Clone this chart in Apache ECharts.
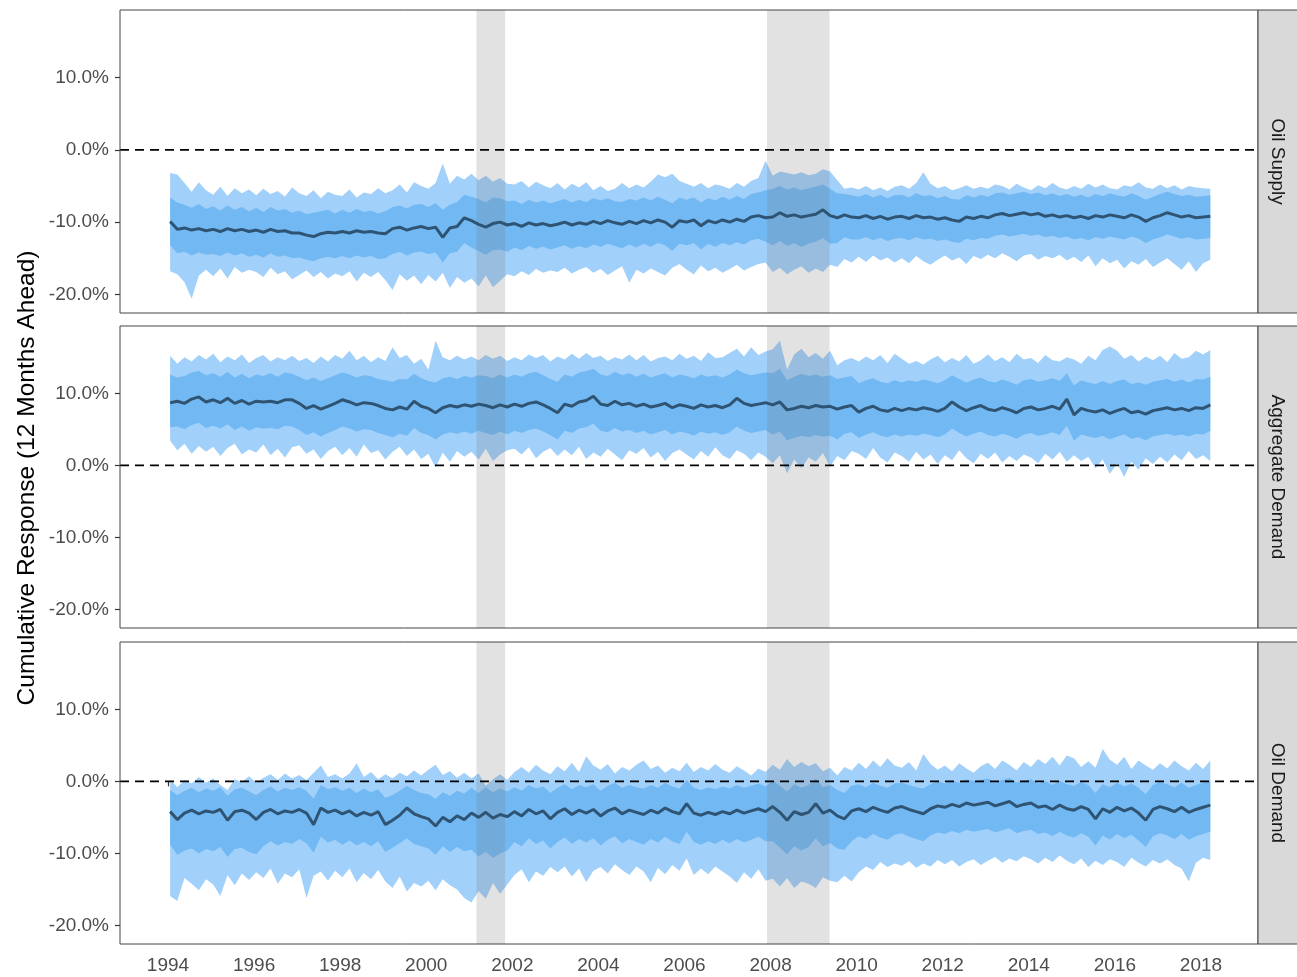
<!DOCTYPE html>
<html><head><meta charset="utf-8">
<script src="https://cdn.jsdelivr.net/npm/echarts@6/dist/echarts.min.js"></script>
<style>html,body{margin:0;padding:0;background:#fff}#chart{width:1297px;height:977px}</style>
</head><body><div id="chart"></div>
<script>
// ---------- data ----------
const panelNames = ['Oil Supply', 'Aggregate Demand', 'Oil Demand'];
const yTitle = 'Cumulative Response (12 Months Ahead)';
const xTicks = [1994, 1996, 1998, 2000, 2002, 2004, 2006, 2008, 2010, 2012, 2014, 2016, 2018];
const yTicks = [-20, -10, 0, 10];
const recessions = [[2001.167, 2001.833], [2007.917, 2009.37]];
// bi-monthly observation dates (decimal years)
const dates = Array.from({length: 146}, (_, i) => 1994.05 + i / 6);

// ---- Oil Supply ----
const supplyMed = [
-9.9,-11.0,-10.8,-11.1,-10.9,-11.2,
-11.0,-11.3,-10.9,-11.2,-11.0,-11.3,
-11.1,-11.4,-11.0,-11.3,-11.2,-11.5,
-11.5,-11.8,-12.0,-11.6,-11.4,-11.5,
-11.3,-11.5,-11.2,-11.4,-11.3,-11.5,
-11.6,-10.9,-10.7,-11.1,-10.8,-10.6,
-10.9,-10.7,-12.1,-10.8,-10.6,-9.4,
-9.8,-10.3,-10.7,-10.2,-10.0,-10.4,
-10.2,-10.6,-10.1,-10.4,-10.2,-10.5,
-10.3,-10.0,-10.4,-10.1,-10.3,-9.9,
-10.2,-9.8,-10.1,-10.3,-9.9,-10.2,
-9.8,-10.1,-9.7,-10.0,-10.7,-9.8,
-10.0,-9.7,-10.5,-9.8,-10.1,-9.7,
-10.0,-9.6,-9.9,-9.3,-9.1,-9.4,
-9.3,-8.7,-9.2,-9.0,-9.3,-9.1,
-8.9,-8.3,-9.1,-9.4,-9.0,-9.3,
-9.4,-9.1,-9.5,-9.2,-9.6,-9.3,
-9.2,-9.5,-9.1,-9.4,-9.3,-9.6,
-9.4,-9.7,-9.9,-9.3,-9.5,-9.2,
-9.4,-9.0,-8.8,-9.1,-8.9,-8.7,
-9.0,-8.8,-9.2,-9.0,-9.3,-9.1,
-9.4,-9.2,-9.5,-9.1,-9.3,-9.0,
-9.2,-9.4,-9.0,-9.3,-9.9,-9.4,
-9.1,-8.7,-9.0,-9.3,-9.1,-9.4,
-9.3,-9.2];
const supplyHi90 = [
-3.2,-3.4,-4.6,-5.8,-4.5,-5.6,
-6.2,-5.1,-6.4,-5.3,-6.0,-5.5,
-6.3,-5.4,-6.1,-5.7,-6.5,-5.2,
-6.0,-6.4,-5.6,-6.7,-5.8,-6.2,
-6.4,-5.5,-6.6,-5.9,-6.1,-5.3,
-6.0,-5.6,-4.8,-5.9,-4.5,-5.0,
-5.4,-4.6,-1.9,-4.7,-3.6,-4.1,
-3.3,-4.2,-3.6,-4.4,-3.9,-4.7,
-4.8,-4.3,-5.2,-4.4,-4.9,-5.3,
-4.6,-5.5,-4.7,-5.2,-4.5,-5.6,
-5.0,-5.7,-5.4,-4.6,-5.3,-4.8,
-5.2,-4.4,-3.4,-3.8,-3.3,-4.3,
-4.7,-5.1,-4.6,-5.3,-4.8,-5.0,
-5.4,-4.6,-5.1,-4.3,-3.9,-1.5,
-3.6,-3.0,-3.2,-3.4,-3.1,-3.5,
-3.3,-2.7,-3.0,-4.2,-5.4,-5.2,
-5.5,-5.0,-5.6,-5.2,-5.7,-5.1,
-4.9,-5.4,-4.6,-3.1,-4.7,-5.3,
-5.0,-5.6,-5.3,-4.9,-5.4,-5.1,
-5.4,-4.8,-5.0,-5.5,-4.7,-5.2,
-5.6,-4.9,-5.3,-4.6,-5.2,-5.5,
-5.0,-5.4,-4.7,-5.2,-4.8,-5.3,
-5.5,-4.9,-5.1,-4.5,-5.2,-5.4,
-4.8,-5.3,-4.9,-5.5,-5.0,-5.2,
-5.3,-5.4];
const supplyLo90 = [
-16.8,-17.2,-18.3,-20.6,-17.4,-16.6,
-17.5,-16.4,-17.8,-16.2,-17.0,-16.6,
-16.9,-17.6,-16.3,-17.2,-16.8,-17.9,
-17.3,-16.7,-17.6,-16.9,-17.8,-17.1,
-17.5,-16.8,-18.2,-17.0,-17.6,-16.9,
-18.0,-19.4,-17.2,-18.1,-17.4,-18.6,
-17.3,-18.2,-17.0,-19.1,-17.6,-18.4,
-17.8,-18.9,-17.4,-19.0,-18.1,-17.2,
-17.5,-16.8,-17.3,-16.5,-17.0,-16.7,
-16.9,-16.3,-17.1,-16.6,-16.2,-17.0,
-16.5,-17.3,-16.7,-16.1,-18.4,-16.6,
-17.1,-16.4,-16.9,-17.4,-16.3,-15.8,
-16.6,-17.2,-16.0,-16.8,-16.3,-17.0,
-16.5,-15.9,-16.7,-16.2,-15.8,-15.6,
-16.9,-16.3,-17.2,-16.6,-16.1,-17.0,
-16.4,-16.9,-15.9,-16.2,-15.1,-15.6,
-14.8,-15.5,-14.6,-15.3,-14.9,-15.6,
-15.0,-15.7,-14.7,-15.4,-15.9,-15.2,
-14.6,-15.3,-14.9,-15.8,-14.7,-15.1,
-14.5,-15.0,-14.3,-14.8,-15.4,-14.6,
-14.4,-15.2,-14.7,-15.0,-14.5,-15.3,
-14.8,-15.5,-14.6,-16.1,-15.0,-15.7,
-15.2,-16.4,-15.4,-15.9,-15.1,-16.2,
-15.6,-15.0,-15.8,-16.6,-15.4,-16.9,
-15.7,-15.2];
const supplyHi68 = [
-6.6,-7.3,-7.6,-8.0,-7.5,-8.2,
-7.8,-8.4,-7.7,-8.3,-7.9,-8.5,
-8.0,-8.6,-7.9,-8.4,-8.2,-8.7,
-8.4,-8.9,-8.7,-8.5,-8.3,-8.8,
-8.3,-8.7,-8.2,-8.6,-8.4,-8.8,
-8.5,-7.9,-7.7,-8.1,-7.6,-7.5,
-7.9,-7.4,-8.3,-7.6,-7.2,-6.2,
-6.5,-6.8,-7.3,-6.6,-6.7,-7.1,
-7.0,-7.5,-6.9,-7.3,-7.0,-7.4,
-7.1,-6.8,-7.3,-6.9,-7.2,-6.7,
-7.0,-6.7,-7.1,-7.2,-6.8,-7.0,
-6.6,-7.0,-6.5,-6.9,-7.4,-6.6,
-6.9,-6.6,-7.3,-6.7,-7.0,-6.5,
-6.9,-6.4,-6.8,-6.1,-5.9,-5.6,
-5.4,-5.0,-5.5,-5.2,-5.6,-5.3,
-5.1,-4.8,-5.4,-6.0,-6.1,-6.3,
-6.5,-6.1,-6.6,-6.2,-6.7,-6.3,
-6.2,-6.6,-6.0,-6.4,-6.3,-6.7,
-6.4,-6.8,-6.9,-6.3,-6.6,-6.2,
-6.5,-6.0,-5.9,-6.2,-6.0,-5.8,
-6.1,-5.9,-6.3,-6.0,-6.4,-6.1,
-6.5,-6.2,-6.6,-6.1,-6.4,-6.0,
-6.3,-6.5,-6.0,-6.4,-6.9,-6.5,
-6.1,-5.8,-6.1,-6.4,-6.2,-6.5,
-6.4,-6.3];
const supplyLo68 = [
-13.2,-14.3,-14.1,-14.6,-14.2,-14.5,
-14.4,-14.7,-14.2,-14.6,-14.3,-14.8,
-14.5,-14.9,-14.3,-14.8,-14.6,-15.0,
-14.9,-15.2,-15.4,-15.0,-14.8,-15.0,
-14.7,-15.0,-14.6,-14.9,-14.7,-15.1,
-15.0,-14.4,-14.1,-14.6,-14.2,-14.1,
-14.4,-14.2,-15.6,-14.3,-14.1,-12.9,
-13.5,-14.0,-14.5,-13.9,-13.8,-14.1,
-13.5,-13.9,-13.3,-13.7,-13.4,-13.8,
-13.5,-13.2,-13.7,-13.3,-13.6,-13.1,
-13.4,-13.0,-13.3,-13.6,-13.1,-13.5,
-13.0,-13.4,-12.9,-13.2,-14.0,-13.0,
-13.2,-12.9,-13.8,-13.0,-13.4,-12.9,
-13.2,-12.8,-13.1,-12.5,-12.3,-12.7,
-13.2,-12.6,-13.3,-12.9,-13.4,-13.0,
-12.7,-12.2,-13.0,-12.9,-12.1,-12.4,
-12.4,-12.1,-12.5,-12.2,-12.6,-12.3,
-12.2,-12.5,-12.1,-12.4,-12.3,-12.6,
-12.4,-12.7,-12.9,-12.3,-12.5,-12.2,
-12.3,-11.9,-11.7,-12.0,-11.8,-11.6,
-11.9,-11.7,-12.1,-11.9,-12.2,-12.0,
-12.4,-12.2,-12.5,-12.1,-12.3,-12.0,
-12.2,-12.4,-12.0,-12.3,-12.9,-12.4,
-12.1,-11.7,-12.0,-12.3,-12.1,-12.4,
-12.3,-12.2];

// ---- Aggregate Demand ----
const aggMed = [
8.7,8.9,8.6,9.2,9.5,8.8,
9.1,8.7,9.3,8.6,9.0,8.5,
8.9,8.8,8.9,8.7,9.1,9.1,
8.6,7.9,8.3,7.8,8.2,8.6,
9.1,8.8,8.4,8.7,8.6,8.3,
7.9,7.7,8.1,7.8,8.9,8.2,
7.9,7.3,8.0,8.3,8.1,8.4,
8.2,8.5,8.3,8.0,8.4,8.1,
8.5,8.2,8.6,8.8,8.4,7.9,
7.3,8.5,8.2,8.8,9.0,9.6,
8.5,8.3,8.9,8.4,8.6,8.2,
8.5,8.1,8.3,8.6,8.0,8.4,
8.2,7.9,8.4,8.1,8.3,8.0,
8.4,9.3,8.6,8.3,8.5,8.7,
8.4,8.8,7.7,7.9,8.2,8.0,
8.3,8.1,8.2,7.8,8.1,8.3,
7.4,7.9,8.2,7.7,7.5,7.9,
7.6,7.9,7.7,8.0,7.8,7.5,
7.9,8.8,8.1,7.6,8.0,8.3,
7.8,7.6,8.0,7.7,7.3,7.9,
8.1,7.7,7.9,8.2,7.8,9.2,
7.0,7.9,7.6,7.4,7.7,7.2,
7.6,7.9,7.3,7.5,7.1,7.6,
7.8,8.0,7.7,7.9,7.6,8.0,
7.9,8.4];
const aggHi90 = [
15.2,14.1,15.0,14.4,15.3,14.7,
15.5,14.3,15.1,14.6,15.4,14.2,
14.9,15.3,14.4,15.0,14.6,15.2,
14.5,14.9,14.2,15.1,14.4,15.3,
14.8,15.9,14.6,15.2,14.3,15.0,
14.5,16.4,14.9,15.3,14.1,14.8,
13.3,17.3,15.0,14.6,15.2,14.7,
15.1,14.6,15.3,14.8,15.2,14.5,
15.0,14.6,15.4,14.9,15.3,14.4,
15.1,14.7,15.5,14.8,15.6,14.9,
15.2,14.5,15.0,14.7,15.4,14.6,
15.3,14.4,14.9,15.1,14.6,15.5,
14.8,15.2,14.5,15.7,14.9,15.0,
15.6,16.2,15.1,16.4,15.3,15.8,
16.1,17.3,13.3,15.4,16.2,15.0,
15.6,14.8,15.9,13.9,14.6,14.9,
14.4,15.1,14.6,15.3,14.2,15.5,
14.8,14.1,14.5,14.0,14.7,15.2,
14.3,14.9,14.4,15.3,14.1,14.6,
15.4,14.5,15.0,14.3,15.5,14.7,
14.9,14.2,15.3,14.6,14.4,15.0,
14.7,14.1,15.2,14.6,16.0,16.5,
15.9,14.8,15.3,14.4,15.1,14.6,
15.2,14.3,15.6,14.8,15.0,15.9,
15.4,16.0];
const aggLo90 = [
3.4,2.1,3.0,1.6,2.7,1.9,
2.6,1.3,2.4,3.0,1.5,2.2,
1.8,2.9,1.4,2.3,1.1,2.5,
2.8,1.6,2.2,0.9,2.0,2.6,
1.4,2.4,1.2,2.9,1.7,2.1,
0.8,1.9,2.6,1.3,2.2,0.9,
1.6,-0.3,1.8,0.5,2.0,1.2,
1.9,0.8,2.3,0.6,1.5,2.1,
2.3,1.5,2.5,1.0,1.9,2.4,
1.3,2.2,1.4,2.6,0.9,1.8,
1.2,2.3,1.5,0.7,2.1,1.6,
2.4,1.1,1.9,0.6,1.7,2.2,
1.5,0.8,2.0,1.2,2.5,1.4,
0.9,2.1,1.6,0.7,1.8,1.2,
0.3,1.4,-1.1,0.8,-0.4,1.1,
0.5,1.7,-0.2,1.3,0.7,2.0,
1.6,0.9,2.4,1.1,0.4,1.8,
1.3,0.5,1.9,0.8,1.5,0.2,
1.4,0.7,2.1,1.0,0.3,1.6,
0.9,1.8,0.4,1.3,0.6,1.5,
1.1,0.3,1.6,0.8,1.9,0.5,
1.4,0.6,1.2,-0.4,0.8,-1.2,
0.3,-1.6,0.5,-0.6,1.0,0.2,
1.2,0.4,1.5,0.7,2.0,0.9,
1.4,0.6];
const aggHi68 = [
12.6,12.2,12.4,12.9,13.1,12.5,
12.8,12.3,13.0,12.2,12.7,12.1,
12.6,12.4,12.8,12.3,12.9,12.7,
12.3,11.8,12.2,11.7,12.1,12.5,
12.9,12.6,12.2,12.5,12.4,12.0,
11.8,11.6,12.0,11.9,12.7,12.1,
11.7,11.5,12.1,12.3,12.0,12.4,
12.2,12.5,12.4,12.1,12.6,12.2,
12.6,12.3,12.8,13.0,12.5,12.0,
11.6,12.6,12.3,12.9,13.1,13.4,
12.6,12.4,13.0,12.5,12.8,12.3,
12.7,12.2,12.5,12.8,12.2,12.6,
12.4,12.1,12.6,12.3,12.5,12.2,
12.6,13.3,12.8,12.5,12.7,12.9,
12.8,13.4,11.8,12.3,12.7,12.4,
12.6,12.3,12.5,12.0,12.2,12.4,
11.4,11.8,12.1,11.6,11.4,11.8,
11.5,11.8,11.6,11.9,11.7,11.4,
11.8,12.5,12.0,11.5,11.9,12.2,
11.7,11.5,11.9,11.6,11.2,11.8,
12.0,11.6,11.8,12.1,11.7,12.8,
11.1,11.8,11.5,11.3,11.7,11.3,
11.7,11.9,11.3,11.5,11.2,11.6,
11.8,12.0,11.6,11.9,11.5,12.0,
11.9,12.3];
const aggLo68 = [
5.3,5.4,5.0,5.6,5.9,5.2,
5.5,5.1,5.7,4.9,5.4,4.8,
5.3,5.1,5.2,5.0,5.5,5.4,
4.9,4.2,4.6,4.0,4.5,4.9,
5.4,5.1,4.7,5.0,4.9,4.5,
4.2,3.9,4.4,4.1,5.2,4.5,
4.2,3.6,4.3,4.6,4.4,4.7,
4.4,4.8,4.5,4.2,4.7,4.3,
4.8,4.5,4.9,5.1,4.7,4.2,
3.6,4.8,4.5,5.1,5.3,5.8,
4.8,4.6,5.2,4.7,4.9,4.5,
4.8,4.3,4.6,4.9,4.3,4.7,
4.5,4.1,4.7,4.4,4.6,4.2,
4.6,5.4,4.8,4.5,4.7,4.9,
4.3,4.7,3.5,3.8,4.1,3.9,
4.2,4.0,4.1,3.6,4.4,4.6,
3.8,4.3,4.6,4.1,3.9,4.3,
4.0,4.3,4.1,4.4,4.2,3.9,
4.3,5.1,4.5,4.0,4.4,4.7,
4.2,4.0,4.4,4.1,3.7,4.3,
4.5,4.1,4.3,4.6,4.2,5.5,
3.4,4.3,4.0,3.8,4.1,3.6,
4.0,4.3,3.7,3.9,3.5,4.0,
4.2,4.4,4.1,4.3,4.0,4.4,
4.3,4.8];

// ---- Oil Demand ----
const oilMed = [
-4.2,-5.3,-4.4,-4.0,-4.5,-4.1,
-4.3,-3.9,-5.4,-4.2,-4.0,-4.4,
-5.3,-4.3,-3.9,-4.5,-4.1,-4.3,
-3.9,-4.4,-6.0,-3.7,-4.3,-4.0,
-4.5,-4.1,-4.8,-4.3,-4.7,-4.2,
-6.0,-5.4,-4.7,-3.7,-4.5,-4.9,
-5.2,-6.2,-5.0,-5.6,-4.8,-5.3,
-4.4,-5.0,-4.3,-5.1,-4.6,-4.9,
-4.2,-4.8,-3.9,-4.5,-4.1,-5.2,
-4.3,-3.8,-4.6,-4.0,-4.4,-3.9,
-4.8,-4.1,-3.7,-4.5,-4.0,-4.3,
-4.6,-4.0,-4.4,-3.7,-4.2,-4.5,
-3.1,-4.4,-4.7,-4.3,-4.6,-4.2,
-4.5,-4.0,-4.4,-4.1,-3.8,-4.2,
-3.5,-4.3,-5.4,-4.2,-4.6,-4.3,
-3.1,-4.4,-4.0,-4.8,-5.2,-4.1,
-3.8,-4.2,-3.6,-4.0,-4.3,-3.7,
-3.5,-3.9,-4.2,-4.5,-3.8,-3.4,
-3.6,-3.2,-3.5,-3.0,-3.3,-3.1,
-2.9,-3.4,-3.1,-2.8,-3.5,-3.2,
-3.0,-3.6,-3.4,-3.9,-3.3,-3.8,
-4.0,-3.5,-3.9,-5.2,-3.8,-4.3,
-3.6,-4.1,-3.7,-4.4,-5.4,-3.9,
-3.5,-3.8,-4.2,-3.6,-4.3,-3.9,
-3.6,-3.3];
const oilHi90 = [
0.3,-0.8,0.2,-0.3,0.6,-0.2,
0.4,-0.5,-1.2,0.3,-0.1,0.7,
-0.2,0.5,1.0,0.2,1.1,0.4,
0.9,0.2,1.2,2.2,0.6,1.0,
0.4,1.1,2.5,0.6,1.3,0.3,
1.0,0.4,1.2,0.7,1.5,0.8,
1.6,2.3,0.9,1.4,0.5,1.2,
0.4,1.1,-0.6,0.3,1.0,0.2,
1.3,2.0,1.2,2.3,1.5,1.0,
2.1,1.4,2.6,1.3,3.5,2.2,
1.6,2.4,1.1,2.0,1.5,2.3,
2.9,1.7,2.2,1.2,1.9,1.4,
2.6,1.3,2.0,1.5,2.4,1.6,
1.2,2.1,1.5,0.8,1.8,1.3,
2.3,1.6,3.1,2.0,2.7,2.1,
2.5,1.4,1.9,0.8,2.0,1.5,
2.6,1.7,2.9,2.0,3.2,2.2,
1.9,2.7,1.5,3.8,2.4,1.6,
2.2,1.4,2.5,1.8,1.2,2.1,
2.6,1.7,2.9,2.3,1.5,2.7,
2.0,3.1,2.4,3.4,2.2,3.6,
3.2,2.0,2.8,1.9,4.5,3.0,
2.3,3.4,1.7,2.9,2.2,1.6,
2.5,1.8,2.9,2.1,1.5,2.6,
1.7,2.9];
const oilLo90 = [
-15.9,-16.6,-13.4,-14.2,-15.1,-13.6,
-14.3,-15.9,-13.0,-14.4,-12.8,-13.7,
-12.6,-13.4,-12.1,-14.2,-12.8,-13.3,
-12.2,-16.2,-13.1,-12.5,-13.8,-12.4,
-13.3,-12.1,-14.0,-12.7,-13.6,-12.3,
-13.9,-14.8,-13.2,-15.3,-14.1,-14.6,
-13.8,-15.1,-13.6,-14.4,-15.0,-16.2,
-16.8,-15.2,-16.3,-14.1,-15.6,-14.3,
-13.0,-12.2,-14.0,-12.5,-13.1,-11.9,
-12.6,-11.8,-13.2,-12.1,-14.0,-12.4,
-11.9,-12.8,-11.5,-12.3,-13.0,-11.8,
-12.5,-14.0,-12.0,-12.9,-11.6,-12.4,
-10.7,-13.0,-12.1,-12.9,-11.8,-12.5,
-13.2,-14.1,-12.6,-13.5,-12.2,-13.8,
-13.5,-14.6,-13.4,-14.8,-13.9,-14.2,
-14.8,-13.3,-13.8,-14.0,-13.1,-13.9,
-12.6,-11.8,-12.3,-11.2,-11.9,-11.4,
-11.7,-11.1,-12.0,-11.4,-11.8,-10.9,
-11.5,-10.9,-11.8,-11.2,-10.8,-11.6,
-11.0,-10.5,-11.3,-10.7,-11.1,-10.4,
-10.8,-11.4,-10.6,-11.2,-10.3,-11.0,
-11.5,-10.7,-11.9,-11.0,-11.6,-10.8,
-11.2,-11.9,-10.6,-11.3,-11.8,-10.9,
-11.4,-10.8,-11.6,-12.1,-13.9,-11.3,
-10.6,-10.9];
const oilHi68 = [
-1.2,-1.9,-1.3,-0.9,-1.5,-1.0,
-1.3,-0.8,-2.0,-1.1,-0.9,-1.4,
-1.9,-1.2,-0.7,-1.4,-0.9,-1.2,
-0.8,-1.3,-2.4,-0.5,-1.1,-0.8,
-1.3,-0.9,-1.6,-1.0,-1.5,-1.1,
-2.3,-1.9,-1.3,-0.6,-1.2,-1.6,
-1.8,-2.4,-1.5,-2.0,-1.3,-1.7,
-0.9,-1.6,-0.8,-1.5,-1.0,-1.4,
-0.8,-1.3,-0.5,-1.0,-0.7,-1.6,
-0.9,-0.4,-1.1,-0.5,-0.8,-0.4,
-1.3,-0.6,-0.2,-0.9,-0.5,-0.8,
-1.0,-0.5,-0.9,-0.2,-0.7,-1.0,
0.2,-0.9,-1.2,-0.8,-1.1,-0.7,
-1.0,-0.5,-0.9,-0.6,-0.3,-0.7,
0.1,-0.6,-1.4,-0.4,-0.9,-0.5,
0.4,-0.8,-0.5,-1.2,-1.6,-0.6,
-0.4,-0.8,-0.2,-0.6,-0.9,-0.3,
-0.2,-0.5,-0.8,-1.0,-0.4,0.0,
-0.3,0.1,-0.2,0.3,0.0,0.2,
0.4,-0.1,0.2,0.5,-0.2,0.1,
0.3,-0.3,0.0,-0.5,0.1,-0.4,
-0.6,-0.1,-0.5,-1.6,-0.4,-0.8,
-0.2,-0.7,-0.3,-0.9,-1.8,-0.5,
-0.1,-0.4,-0.8,-0.2,-0.9,-0.5,
-0.2,0.1];
const oilLo68 = [
-8.8,-10.2,-9.6,-9.3,-10.0,-9.4,
-9.7,-9.1,-10.5,-9.4,-9.2,-9.8,
-10.1,-9.0,-8.3,-8.9,-8.4,-8.7,
-8.0,-8.6,-9.9,-7.7,-8.5,-8.1,
-8.8,-8.2,-8.9,-8.4,-9.0,-8.3,
-9.8,-9.2,-8.6,-7.9,-8.7,-9.0,
-9.3,-10.2,-9.0,-9.8,-9.1,-9.7,
-9.5,-10.4,-9.8,-10.6,-10.0,-9.6,
-8.4,-9.0,-7.9,-8.7,-8.2,-9.3,
-8.4,-7.8,-8.7,-8.0,-8.5,-7.9,
-8.9,-8.1,-7.6,-8.6,-8.0,-8.4,
-8.8,-8.0,-8.5,-7.7,-8.3,-8.7,
-7.0,-8.4,-8.8,-8.3,-8.7,-8.1,
-8.6,-8.0,-8.5,-8.1,-7.7,-8.3,
-8.3,-9.2,-10.1,-9.0,-9.6,-9.1,
-7.9,-9.0,-8.6,-9.3,-9.5,-8.3,
-7.6,-8.0,-7.3,-7.8,-8.1,-7.4,
-7.2,-7.7,-8.0,-8.3,-7.5,-7.1,
-7.3,-6.9,-7.2,-6.7,-7.0,-6.8,
-6.6,-7.1,-6.8,-6.5,-7.2,-6.9,
-6.7,-7.3,-7.1,-7.6,-7.0,-7.5,
-7.8,-7.2,-7.7,-8.9,-7.5,-8.1,
-7.3,-7.9,-7.4,-8.2,-9.1,-7.6,
-7.2,-7.5,-8.0,-7.3,-8.1,-7.6,
-7.3,-7.0];

// ---------- chart ----------
const X_MIN = 1992.885, X_MAX = 2019.325;
const Y_MIN = -22.57, Y_MAX = 19.34;
const FONT = '"Liberation Sans", Arial, Helvetica, sans-serif';
const panels = [
  {med: supplyMed, lo68: supplyLo68, hi68: supplyHi68, lo90: supplyLo90, hi90: supplyHi90, top: 10, h: 303},
  {med: aggMed, lo68: aggLo68, hi68: aggHi68, lo90: aggLo90, hi90: aggHi90, top: 326, h: 302},
  {med: oilMed, lo68: oilLo68, hi68: oilHi68, lo90: oilLo90, hi90: oilHi90, top: 642, h: 302}
];
const LEFT = 120, PW = 1138;

function bandSeries(idx, lo, hi, color, z) {
  return {
    type: 'custom', xAxisIndex: idx, yAxisIndex: idx, z: z, silent: true, clip: true,
    encode: {x: 0, y: [1, 2]},
    data: dates.map((d, i) => [d, lo[i], hi[i]]),
    renderItem: function (params, api) {
      if (params.dataIndex !== 0) return;
      const pts = [];
      for (let i = 0; i < dates.length; i++) pts.push(api.coord([dates[i], hi[i]]));
      for (let i = dates.length - 1; i >= 0; i--) pts.push(api.coord([dates[i], lo[i]]));
      return {type: 'polygon', shape: {points: pts}, style: {fill: color}};
    }
  };
}

const grid = [], xAxis = [], yAxis = [], series = [], graphic = [];
panels.forEach((p, k) => {
  grid.push({left: LEFT, width: PW, top: p.top, height: p.h});
  xAxis.push({
    type: 'value', gridIndex: k, min: X_MIN, max: X_MAX,
    axisLine: {show: false}, splitLine: {show: false},
    axisTick: {show: k === 2, length: 5, customValues: xTicks, lineStyle: {color: '#333', width: 1.2}},
    axisLabel: {show: k === 2, customValues: xTicks, margin: 12, fontSize: 19, color: '#4d4d4d', fontFamily: FONT,
      formatter: v => String(Math.round(v))}
  });
  yAxis.push({
    type: 'value', gridIndex: k, min: Y_MIN, max: Y_MAX,
    axisLine: {show: false}, splitLine: {show: false},
    axisTick: {show: true, length: 5, customValues: yTicks, lineStyle: {color: '#333', width: 1.2}},
    axisLabel: {customValues: yTicks, margin: 11, fontSize: 19, color: '#4d4d4d', fontFamily: FONT,
      formatter: v => v.toFixed(1) + '%'}
  });
  series.push(bandSeries(k, p.lo90, p.hi90, '#a1d0fa', 1));
  series.push(bandSeries(k, p.lo68, p.hi68, '#72b9f4', 2));
  series.push({
    type: 'custom', xAxisIndex: k, yAxisIndex: k, z: 3, silent: true,
    encode: {x: [0, 1]},
    data: recessions,
    renderItem: function (params, api) {
      const a = api.coord([api.value(0), Y_MAX]);
      const b = api.coord([api.value(1), Y_MIN]);
      return {type: 'rect', shape: {x: a[0], y: a[1], width: b[0] - a[0], height: b[1] - a[1]},
        style: {fill: 'rgba(120,120,120,0.21)'}};
    }
  });
  series.push({
    type: 'line', xAxisIndex: k, yAxisIndex: k, z: 4, symbol: 'none', silent: true,
    data: dates.map((d, i) => [d, p.med[i]]),
    lineStyle: {color: '#2f5473', width: 3}
  });
  series.push({
    type: 'line', xAxisIndex: k, yAxisIndex: k, z: 5, symbol: 'none', silent: true,
    data: [[X_MIN, 0], [X_MAX, 0]],
    lineStyle: {color: '#000', width: 1.8, type: [9, 6]}
  });
  // panel frame
  graphic.push({type: 'rect', z: 100, silent: true,
    shape: {x: LEFT, y: p.top, width: PW, height: p.h},
    style: {fill: 'none', stroke: '#444', lineWidth: 1}});
  // strip
  graphic.push({type: 'rect', z: 100, silent: true,
    shape: {x: LEFT + PW, y: p.top, width: 50, height: p.h},
    style: {fill: '#d9d9d9', stroke: '#444', lineWidth: 1}});
  graphic.push({type: 'text', z: 101, silent: true,
    x: LEFT + PW + 19, y: p.top + p.h / 2, rotation: -Math.PI / 2,
    style: {text: panelNames[k], fontSize: 19, fontFamily: FONT, fill: '#1a1a1a',
      align: 'center', verticalAlign: 'middle'}});
});
graphic.push({type: 'text', z: 101, silent: true, x: 27, y: 478, rotation: Math.PI / 2,
  style: {text: yTitle, fontSize: 24.5, fontFamily: FONT, fill: '#000',
    align: 'center', verticalAlign: 'middle'}});

const chart = echarts.init(document.getElementById('chart'), null, {renderer: 'canvas'});
chart.setOption({animation: false, backgroundColor: '#fff', grid, xAxis, yAxis, series, graphic});
</script>
</body></html>
